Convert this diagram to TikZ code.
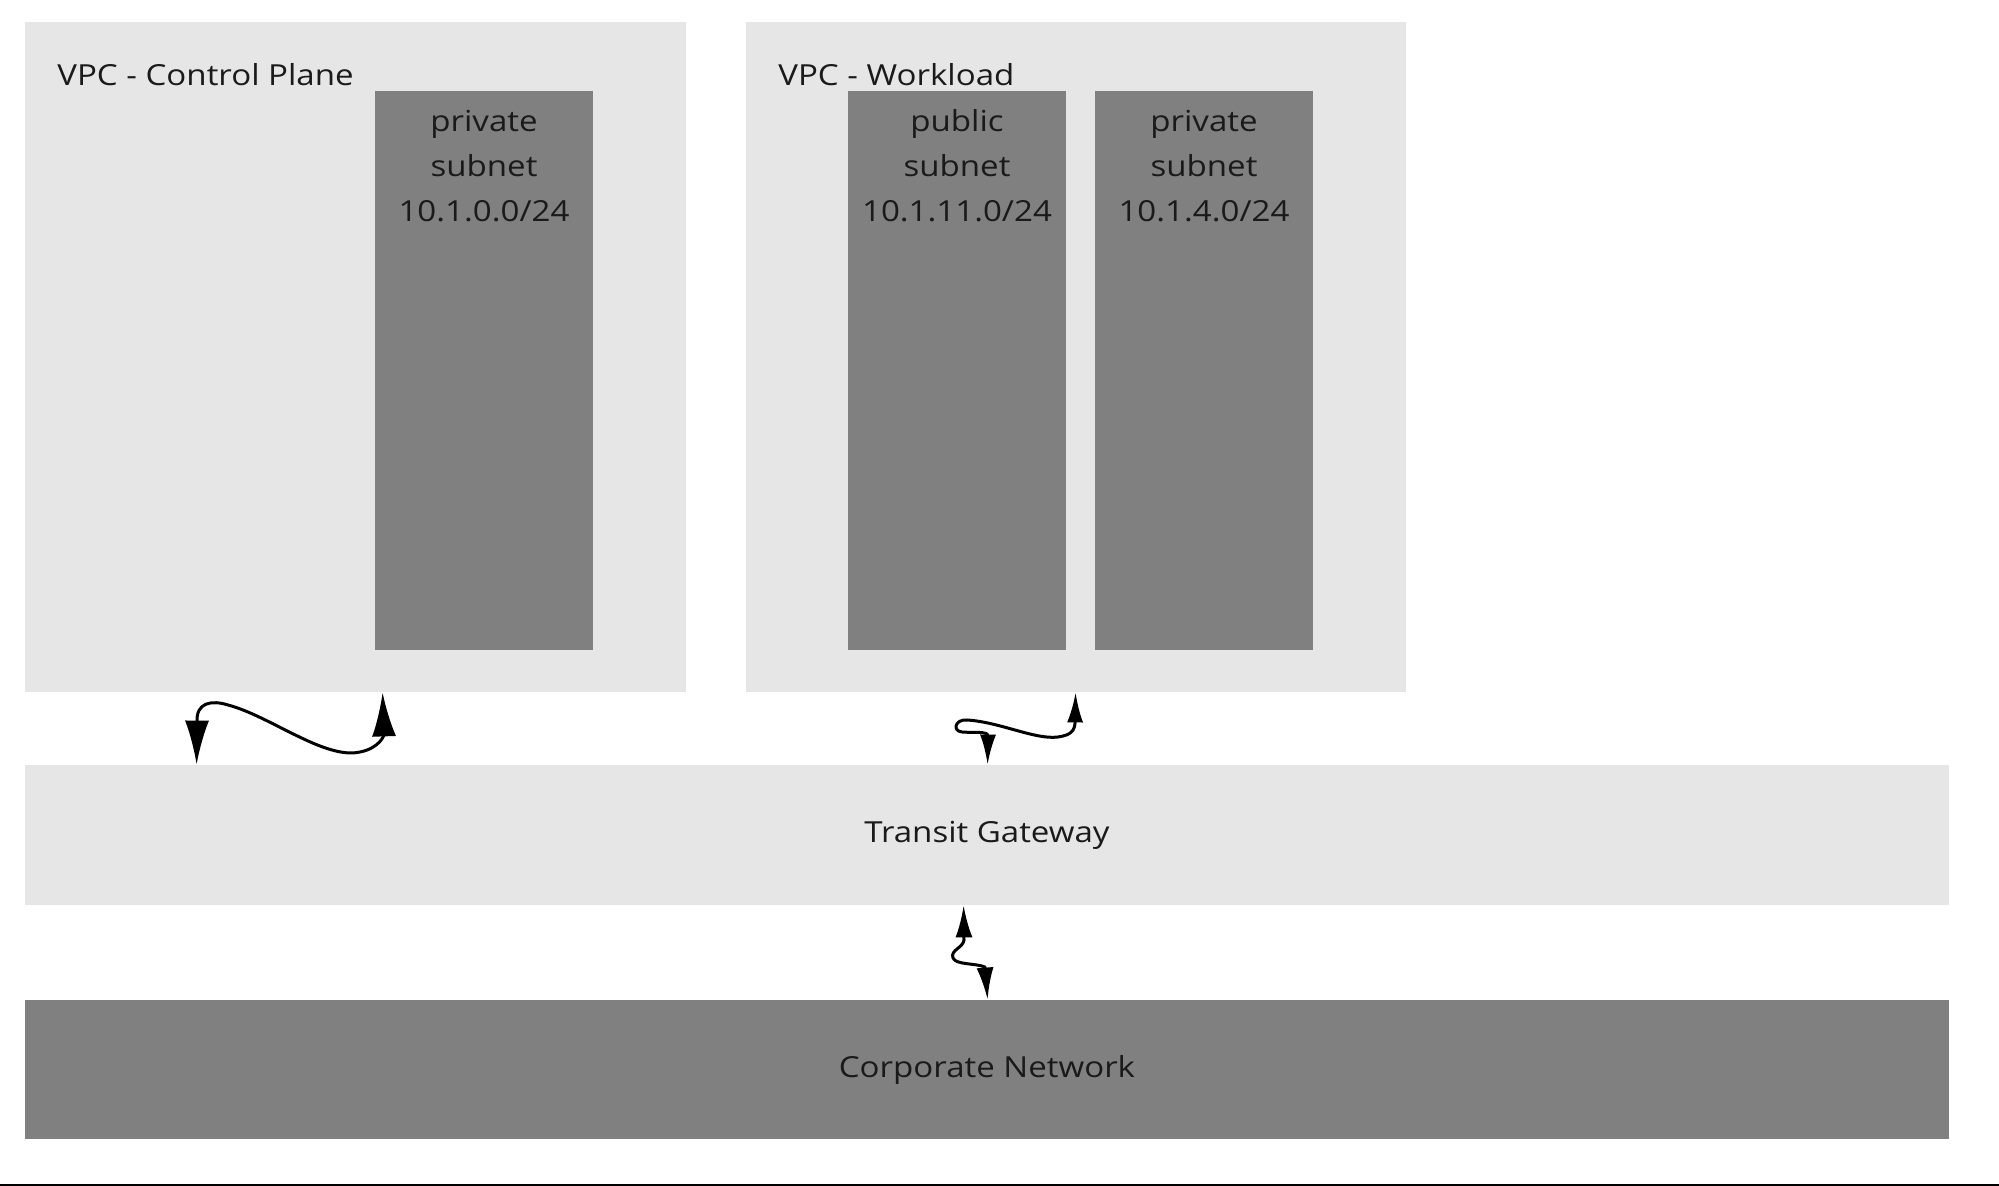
\documentclass[tikz,border=0pt]{standalone}
\usepackage{fontspec}
\setmainfont{Open Sans}[FakeStretch=1.14]
\usetikzlibrary{arrows.meta,positioning,fit,calc}
\definecolor{vpcgray}{HTML}{E6E6E6}
\definecolor{subnetgray}{HTML}{808080}
\definecolor{labelink}{HTML}{1A1A1A}

\begin{document}
\begin{tikzpicture}[
        x=0.5pt, y=-0.5pt,
        font=\fontsize{14.5}{22.5}\selectfont,
        area/.style={fill=#1, draw=none, inner sep=0pt},
        title/.style={anchor=base west, inner sep=0pt, text=labelink},
        netlabel/.style={anchor=base, inner sep=0pt, align=center, text=labelink},
        link/.style={line width=1.5pt, line join=round}
    ]
        \useasboundingbox (0,0) rectangle (1999,1186);

        % VPCs
        \node[area=vpcgray, fit={(25,22) (686,692)}] (cp) {};
        \node[area=vpcgray, fit={(746,22) (1406,692)}] (wl) {};
        \node[title] (cpTitle) at (57,86) {VPC - Control Plane};
        \node[title] (wlTitle) at (778,86) {VPC - Workload};

        % subnets
        \node[area=subnetgray, fit={(375,91) (593,650)}] (cpPriv) {};
        \node[area=subnetgray, fit={(848,91) (1066,650)}] (wlPub) {};
        \node[area=subnetgray, fit={(1095,91) (1313,650)}] (wlPriv) {};
        \node[netlabel] (cpPrivText) at (cpPriv.north |- 0,222) {private\\subnet\\10.1.0.0/24};
        \node[netlabel] (wlPubText) at (wlPub.north |- 0,222) {public\\subnet\\10.1.11.0/24};
        \node[netlabel] (wlPrivText) at (wlPriv.north |- 0,222) {private\\subnet\\10.1.4.0/24};

        % gateway and corporate side
        \node[area=vpcgray, fit={(25,765) (1949,905)}] (tgw) {};
        \node[text=labelink] at (tgw.center) {Transit Gateway};
        \node[area=subnetgray, fit={(25,1000) (1949,1139)}] (corp) {};
        \node[text=labelink] at (corp.center) {Corporate Network};

        % attachments
        \draw[link, {Latex[length=22pt,width=12pt]}-{Latex[length=22pt,width=12pt]}]
            ([xshift=86pt]tgw.north west) -- (197,722)
            .. controls (196,702) and (212,700) .. (228,705)
            .. controls (270,716) and (325,760) .. (360,752)
            .. controls (380,748) and (384,735) .. ([xshift=179pt]cp.south west);
        \draw[link, {Latex[length=15pt,width=8pt]}-{Latex[length=15pt,width=8pt]}]
            ([xshift=481.5pt]tgw.north west) -- (988,736)
            .. controls (988,731) and (975,733) .. (962,732)
            .. controls (952,731) and (955,719) .. (967,720)
            .. controls (1000,722) and (1035,740) .. (1058,737)
            .. controls (1072,735) and (1075,730) .. ([xshift=165pt]wl.south west);
        \draw[link, {Latex[length=16pt,width=8.5pt]}-{Latex[length=16pt,width=8.5pt]}]
            ([xshift=469.5pt]tgw.south west) -- (964,940)
            .. controls (963,948) and (950,950) .. (953,958)
            .. controls (956,965) and (975,963) .. (985,967)
            -- ([xshift=481.5pt]corp.north west);

        \draw[line width=1pt] (0,1185) -- (1999,1185);
    \end{tikzpicture}
\end{document}
